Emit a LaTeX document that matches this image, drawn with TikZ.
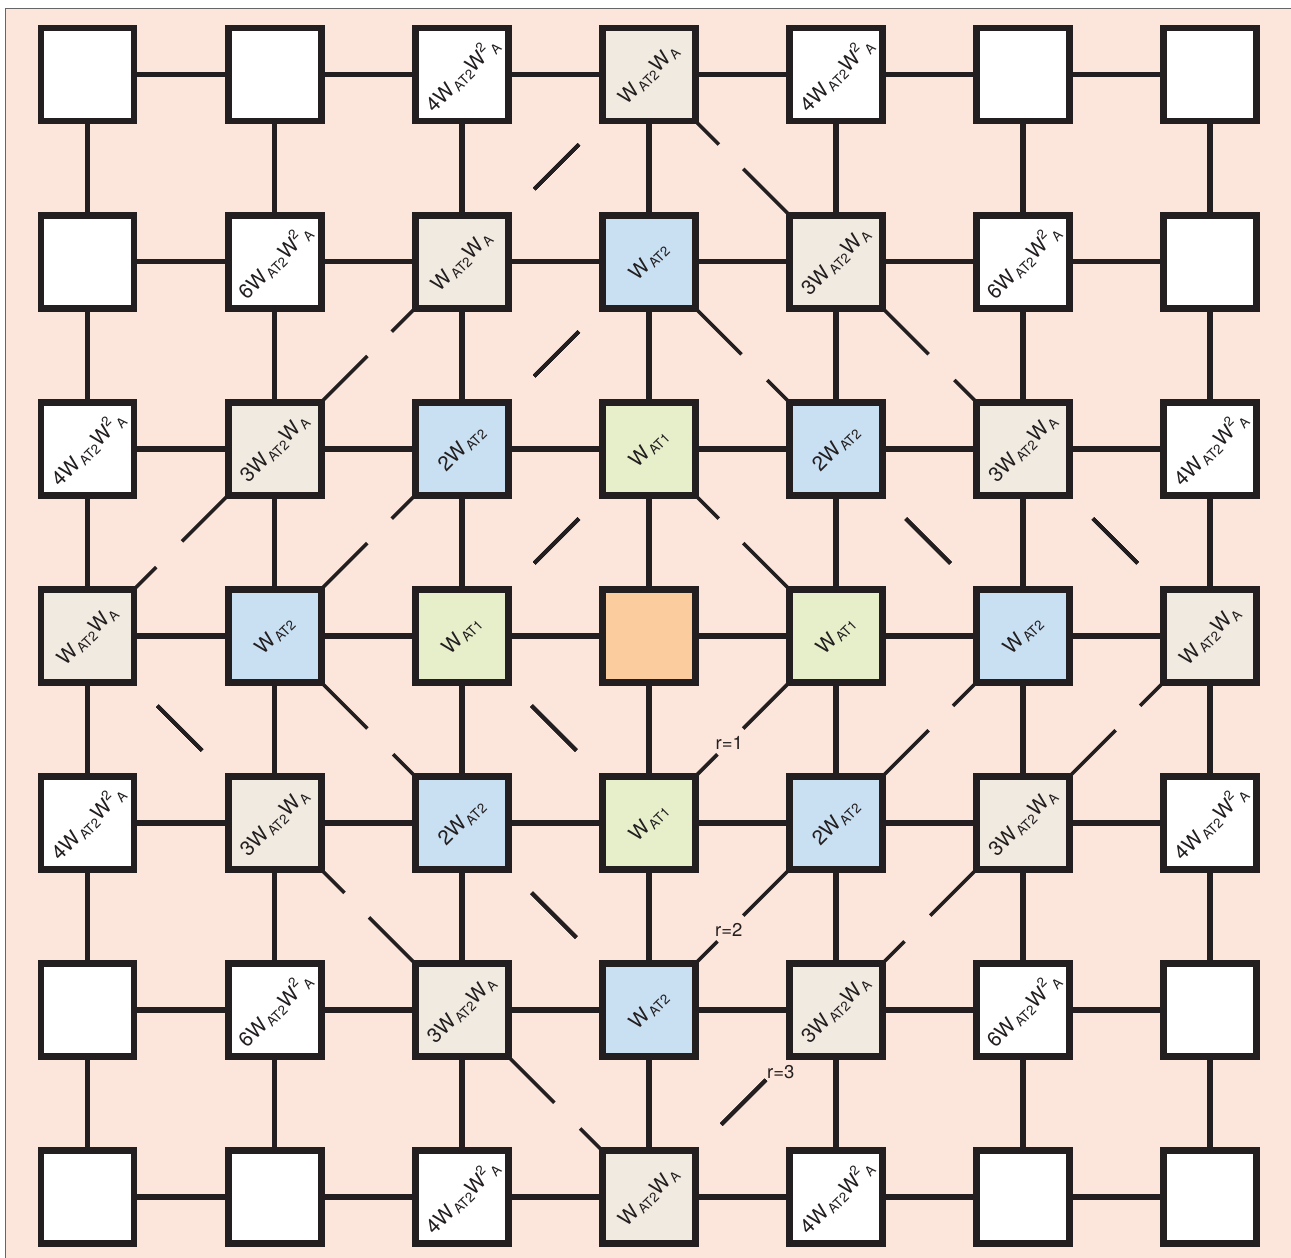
\documentclass[tikz,border=0pt]{standalone}
\usepackage{fontspec}
\setmainfont{TeX Gyre Heros}
\usetikzlibrary{positioning,calc}
\definecolor{bgpink}{HTML}{FCE5DA}
\definecolor{inkdark}{HTML}{231F20}
\definecolor{ctan}{HTML}{F1EAE0}
\definecolor{csky}{HTML}{C9DFF2}
\definecolor{cleaf}{HTML}{E6EFCA}
\definecolor{ccore}{HTML}{FBCD9E}
\newcommand{\wlo}[1]{\hspace{1.8pt}\raisebox{-3pt}{\fontsize{13.5}{15}\selectfont #1}}
\newcommand{\whi}[1]{\raisebox{9pt}{\fontsize{13.5}{15}\selectfont #1}}
\newcommand{\wsq}[1]{#1W\wlo{AT2}W\whi{2}\wlo{A}}
\newcommand{\wpr}[1]{#1W\wlo{AT2}W\wlo{A}}
\pgfdeclarelayer{bg}
\pgfsetlayers{bg,main}

\begin{document}
\begin{tikzpicture}[x=1pt, y=-1pt,
  every node/.style={font=\fontsize{20.5}{24}\selectfont, text=inkdark},
  plain/.style={draw=inkdark, line width=6.8pt, fill=white, minimum size=93pt, inner sep=0pt},
  tan/.style={plain, fill=ctan},
  sky/.style={plain, fill=csky},
  leaf/.style={plain, fill=cleaf},
  core/.style={plain, fill=ccore},
  lab/.style={rotate=45, inner sep=0pt},
  rlab/.style={font=\fontsize{18.5}{21}\selectfont, inner sep=1pt},
  link/.style={draw=inkdark, line width=5.6pt},
  ring/.style={draw=inkdark, line width=3.6pt},
  node distance=187.1pt, on grid]
\useasboundingbox (0,0) rectangle (1291,1258);
\clip (0,0) rectangle (1291,1258);
% row 0
\node[plain] (c00) at (87.5,74.5) {};
\node[plain, right=of c00] (c10) {};
\node[plain, right=of c10, label={[lab]center:\wsq{4}}] (c20) {};
\node[tan, right=of c20, label={[lab]center:\wpr{}}] (c30) {};
\node[plain, right=of c30, label={[lab]center:\wsq{4}}] (c40) {};
\node[plain, right=of c40] (c50) {};
\node[plain, right=of c50] (c60) {};
% row 1
\node[plain, below=of c00] (c01) {};
\node[plain, right=of c01, label={[lab]center:\wsq{6}}] (c11) {};
\node[tan, right=of c11, label={[lab]center:\wpr{}}] (c21) {};
\node[sky, right=of c21, label={[lab]center:W\wlo{AT2}}] (c31) {};
\node[tan, right=of c31, label={[lab]center:\wpr{3}}] (c41) {};
\node[plain, right=of c41, label={[lab]center:\wsq{6}}] (c51) {};
\node[plain, right=of c51] (c61) {};
% row 2
\node[plain, below=of c01, label={[lab]center:\wsq{4}}] (c02) {};
\node[tan, right=of c02, label={[lab]center:\wpr{3}}] (c12) {};
\node[sky, right=of c12, label={[lab]center:2W\wlo{AT2}}] (c22) {};
\node[leaf, right=of c22, label={[lab]center:W\wlo{AT1}}] (c32) {};
\node[sky, right=of c32, label={[lab]center:2W\wlo{AT2}}] (c42) {};
\node[tan, right=of c42, label={[lab]center:\wpr{3}}] (c52) {};
\node[plain, right=of c52, label={[lab]center:\wsq{4}}] (c62) {};
% row 3
\node[tan, below=of c02, label={[lab]center:\wpr{}}] (c03) {};
\node[sky, right=of c03, label={[lab]center:W\wlo{AT2}}] (c13) {};
\node[leaf, right=of c13, label={[lab]center:W\wlo{AT1}}] (c23) {};
\node[core, right=of c23] (c33) {};
\node[leaf, right=of c33, label={[lab]center:W\wlo{AT1}}] (c43) {};
\node[sky, right=of c43, label={[lab]center:W\wlo{AT2}}] (c53) {};
\node[tan, right=of c53, label={[lab]center:\wpr{}}] (c63) {};
% row 4
\node[plain, below=of c03, label={[lab]center:\wsq{4}}] (c04) {};
\node[tan, right=of c04, label={[lab]center:\wpr{3}}] (c14) {};
\node[sky, right=of c14, label={[lab]center:2W\wlo{AT2}}] (c24) {};
\node[leaf, right=of c24, label={[lab]center:W\wlo{AT1}}] (c34) {};
\node[sky, right=of c34, label={[lab]center:2W\wlo{AT2}}] (c44) {};
\node[tan, right=of c44, label={[lab]center:\wpr{3}}] (c54) {};
\node[plain, right=of c54, label={[lab]center:\wsq{4}}] (c64) {};
% row 5
\node[plain, below=of c04] (c05) {};
\node[plain, right=of c05, label={[lab]center:\wsq{6}}] (c15) {};
\node[tan, right=of c15, label={[lab]center:\wpr{3}}] (c25) {};
\node[sky, right=of c25, label={[lab]center:W\wlo{AT2}}] (c35) {};
\node[tan, right=of c35, label={[lab]center:\wpr{3}}] (c45) {};
\node[plain, right=of c45, label={[lab]center:\wsq{6}}] (c55) {};
\node[plain, right=of c55] (c65) {};
% row 6
\node[plain, below=of c05] (c06) {};
\node[plain, right=of c06] (c16) {};
\node[plain, right=of c16, label={[lab]center:\wsq{4}}] (c26) {};
\node[tan, right=of c26, label={[lab]center:\wpr{}}] (c36) {};
\node[plain, right=of c36, label={[lab]center:\wsq{4}}] (c46) {};
\node[plain, right=of c46] (c56) {};
\node[plain, right=of c56] (c66) {};
\begin{pgfonlayer}{bg}
% paper
\draw[fill=bgpink, draw=gray!80!black, line width=1pt] (5,8) rectangle (1300,1270);
% lattice bonds
\foreach \j in {0,...,6}
  \foreach \k [remember=\k as \i (initially 0)] in {1,...,6} {
    \draw[link] (c\i\j) -- (c\k\j);
    \draw[link] (c\j\i) -- (c\j\k);
  }
% shells r=1,2,3 (M: middle dash, A: short first, B: long first)
\foreach \p/\q in {c30.south west/c21.north east, c03.south east/c14.north west,
    c52.south east/c63.north west, c45.south west/c36.north east,
    c31.south west/c22.north east, c24.south east/c35.north west,
    c42.south east/c53.north west, c32.south west/c23.north east,
    c23.south east/c34.north west}
  \draw[ring] ($(\p)!.23!(\q)$) -- ($(\p)!.74!(\q)$);
\foreach \p/\q in {c21.south west/c12.north east, c14.south east/c25.north west,
    c30.south east/c41.north west, c63.south west/c54.north east,
    c22.south west/c13.north east, c53.south west/c44.north east,
    c32.south east/c43.north west} {
  \draw[ring] ($(\p)!-.1!(\q)$) -- ($(\p)!.23!(\q)$);
  \draw[ring] ($(\p)!.51!(\q)$) -- ($(\p)!1.1!(\q)$);
}
\foreach \p/\q in {c12.south west/c03.north east, c25.south east/c36.north west,
    c41.south east/c52.north west, c54.south west/c45.north east,
    c13.south east/c24.north west, c31.south east/c42.north west,
    c44.south west/c35.north east, c43.south west/c34.north east} {
  \draw[ring] ($(\p)!-.1!(\q)$) -- ($(\p)!.49!(\q)$);
  \draw[ring] ($(\p)!.785!(\q)$) -- ($(\p)!1.1!(\q)$);
}
\end{pgfonlayer}
\node[rlab] (r1) at ($(c43.south west)!.65!(c34.north east)$) {r=1};
\node[rlab] (r2) at ($(c44.south west)!.655!(c35.north east)$) {r=2};
\node[rlab, yshift=-7pt] (r3) at ($(c45.south west)!.06!(c36.north east)$) {r=3};
\end{tikzpicture}
\end{document}
